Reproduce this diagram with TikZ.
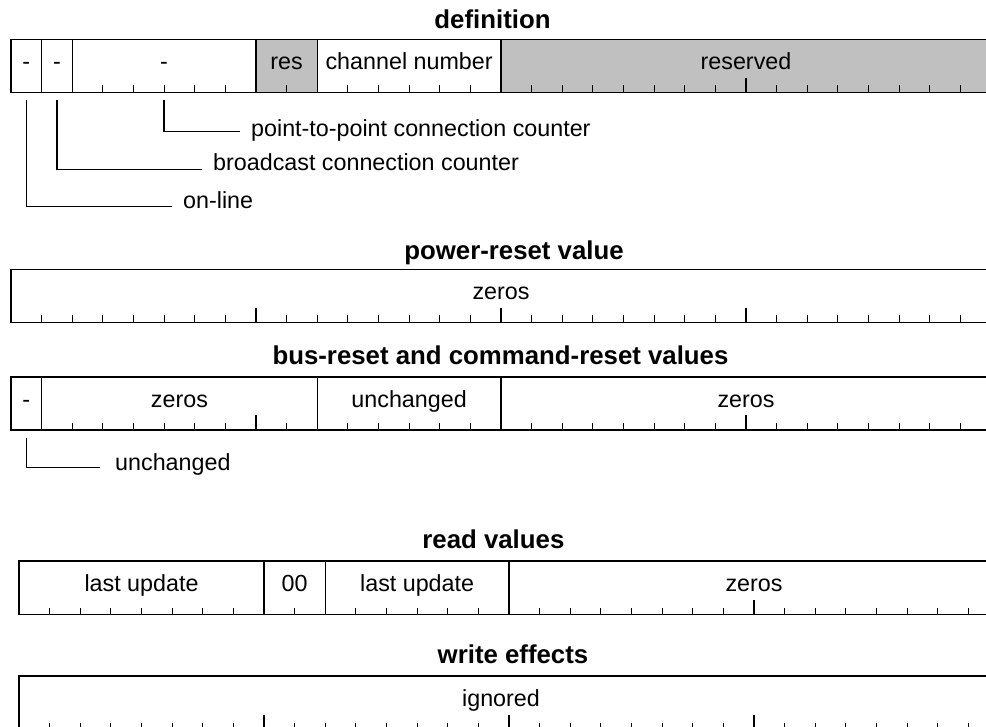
\documentclass[tikz,border=0pt]{standalone}
\usepackage{fontspec}
\setmainfont{Liberation Sans}
\definecolor{regGray}{RGB}{192,192,192}
% bit width of one register cell
\newcommand\bw{30.625}
% ticks along the bottom edge of a register: #1 left x, #2 bottom y, #3 bit list
\newcommand\regticks[3]{%
  \foreach \b in {#3}{%
    \pgfmathsetmacro\tlen{mod(\b,8)==0 ? 14.5 : 7}%
    \draw[tick] ({#1+\bw*\b},#2) -- ++(0,-\tlen);
  }}
\begin{document}
\begin{tikzpicture}[x=1pt,y=-1pt,
  every node/.style={inner sep=0pt,font=\fontsize{23.3}{28}\selectfont},
  title/.style={anchor=base,font=\fontsize{25.8}{30}\selectfont\bfseries},
  field/.style={anchor=base},
  note/.style={anchor=base west},
  frame/.style={draw,line width=1.3pt},
  tick/.style={line width=1.2pt},
  leader/.style={line width=1.3pt},
  shade/.style={fill=regGray}]
\useasboundingbox (0,0) rectangle (986,727);
\clip (0,0) rectangle (986,727);

% ---------------- definition ----------------
\node[title] (t-def) at (492.5,28.3) {definition};
\fill[shade] ({11+\bw*8},39.5) rectangle ({11+\bw*10},92.5);
\fill[shade] ({11+\bw*16},39.5) rectangle (1000,92.5);
\draw[frame] (1000,39.5) -- (11,39.5) -- (11,92.5) -- (1000,92.5);
\foreach \b in {1,2,8,10,16}
  \draw[frame] ({11+\bw*\b},39.5) -- ({11+\bw*\b},92.5);
\regticks{11}{92.5}{3,4,5,6,7,9,11,12,13,14,15,17,18,19,20,21,22,23,24,25,26,27,28,29,30,31}
\node[field] (d-on)  at ({11+\bw*0.5},69.5) {-};
\node[field] (d-bc)  at ({11+\bw*1.5},69.5) {-};
\node[field] (d-pp)  at ({11+\bw*5},69.5) {-};
\node[field] (d-res) at ({11+\bw*9},69.5) {res};
\node[field] (d-ch)  at ({11+\bw*13},69.5) {channel number};
\node[field] (d-rsv) at ({11+\bw*24},69.5) {reserved};

\coordinate (b-on) at ({11+\bw*0.5},100);
\coordinate (b-bc) at ({11+\bw*1.5},100);
\coordinate (b-pp) at ({11+\bw*5},100);
\node[note] (n-pp) at (251,136.5) {point-to-point connection counter};
\node[note] (n-bc) at (213,171) {broadcast connection counter};
\node[note] (n-on) at (183,208.5) {on-line};
\draw[leader] (b-pp) |- ([xshift=-11pt,yshift=5pt]n-pp.base west);
\draw[leader] (b-bc) |- ([xshift=-11pt,yshift=1.5pt]n-bc.base west);
\draw[leader] (b-on) |- ([xshift=-11pt,yshift=2pt]n-on.base west);

% ---------------- power-reset value ----------------
\node[title] (t-pwr) at (514,259.5) {power-reset value};
\draw[frame] (1000,269.5) -- (11,269.5) -- (11,322.5) -- (1000,322.5);
\regticks{11}{322.5}{1,...,31}
\node[field] (p-z) at ({11+\bw*16},299.5) {zeros};

% ---------------- bus-reset and command-reset values ----------------
\node[title] (t-bus) at (500.5,365) {bus-reset and command-reset values};
\draw[frame] (1000,377) -- (11,377) -- (11,430) -- (1000,430);
\foreach \b in {1,10,16}
  \draw[frame] ({11+\bw*\b},377) -- ({11+\bw*\b},430);
\regticks{11}{430}{2,3,4,5,6,7,8,9,11,12,13,14,15,17,18,19,20,21,22,23,24,25,26,27,28,29,30,31}
\node[field] (r-on) at ({11+\bw*0.5},407) {-};
\node[field] (r-z1) at ({11+\bw*5.5},407) {zeros};
\node[field] (r-ch) at ({11+\bw*13},407) {unchanged};
\node[field] (r-z2) at ({11+\bw*24},407) {zeros};
\coordinate (b-ron) at ({11+\bw*0.5},438.5);
\node[note] (n-ron) at (115,470) {unchanged};
\draw[leader] (b-ron) |- ([xshift=-15pt,yshift=2.5pt]n-ron.base west);

% ---------------- read values ----------------
\node[title] (t-rd) at (493.4,548) {read values};
\draw[frame] (1000,561) -- (19,561) -- (19,614.5) -- (1000,614.5);
\foreach \b in {8,10,16}
  \draw[frame] ({19+\bw*\b},561) -- ({19+\bw*\b},614.5);
\regticks{19}{614.5}{1,2,3,4,5,6,7,9,11,12,13,14,15,17,18,19,20,21,22,23,24,25,26,27,28,29,30,31}
\node[field] (v-lu1) at ({19+\bw*4},591.5) {last update};
\node[field] (v-00)  at ({19+\bw*9},591.5) {00};
\node[field] (v-lu2) at ({19+\bw*13},591.5) {last update};
\node[field] (v-z)   at ({19+\bw*24},591.5) {zeros};

% ---------------- write effects ----------------
\node[title] (t-wr) at (513,663) {write effects};
\draw[frame] (1000,676) -- (19,676) -- (19,729.5) -- (1000,729.5);
\regticks{19}{729.5}{1,...,31}
\node[field] (w-ig) at (501,706.5) {ignored};
\end{tikzpicture}
\end{document}
